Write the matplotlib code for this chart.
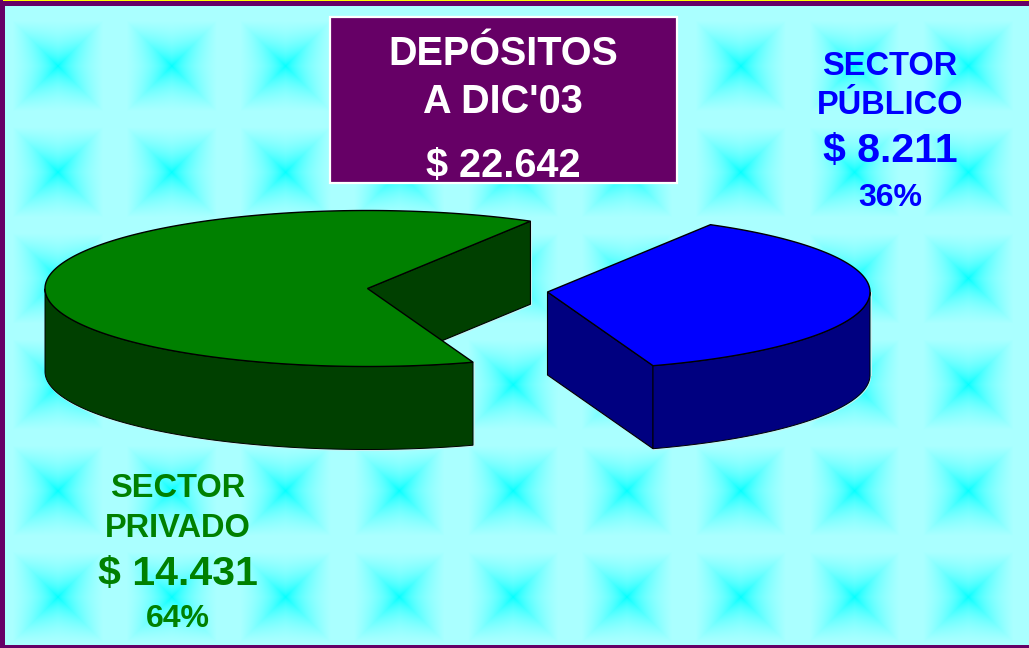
import numpy as np
import matplotlib
matplotlib.use('Agg')
import matplotlib.pyplot as plt
from matplotlib.patches import Polygon, Rectangle

plt.rcParams['font.family'] = ['Liberation Sans', 'DejaVu Sans']

sector_lines = [['SECTOR', 'PRIVADO'], ['SECTOR', 'PÚBLICO']]
amounts = [14431, 8211]
amount_labels = ['$ 14.431', '$ 8.211']
pct_labels = ['64%', '36%']
title_lines = ['DEPÓSITOS', "A DIC'03", '$ 22.642']

PURPLE = '#660066'
W, H = 1029, 648
A, B, DEPTH = 322.5, 78, 83
BLUE_START = -70.9  # where the blue slice starts, degrees
EDGE = '#c8f0f0'


def ell(cx, cy, deg):
    t = np.radians(deg)
    return np.column_stack([cx + A*np.cos(t), cy - B*np.sin(t)])


def draw_slice(ax, cx, cy, a0, a1, top, side, wall_angle):
    #a0 to a1 counter clockwise, wall_angle is the cut face we can see
    p = ell(cx, cy, wall_angle)[0]
    wall = [(cx, cy), p, (p[0], p[1]+DEPTH), (cx, cy+DEPTH)]
    ax.plot([wall[2][0]+.8, wall[3][0]+.8], [wall[2][1]+1, wall[3][1]+1], color=EDGE, lw=.8, zorder=2.5)
    ax.plot([p[0]+.9, p[0]+.9], [p[1], p[1]+DEPTH], color=EDGE, lw=.8, zorder=2.5)
    ax.add_patch(Polygon(wall, fc=side, ec='black', lw=.8, zorder=3))
    #only the front of the rim shows
    angs = np.linspace(a0, a1, 300)
    front = angs[np.sin(np.radians(angs)) <= 0]
    rim = ell(cx, cy, front)
    low = rim + [0, DEPTH]
    ax.plot(low[:, 0]+.6, low[:, 1]+1, color=EDGE, lw=.8, zorder=3.5)
    ax.add_patch(Polygon(np.vstack([rim, low[::-1]]), fc=side, ec='black', lw=.7, zorder=4))
    r = rim[-1] if rim[-1, 0] > cx else rim[0]
    ax.plot([r[0]+.9, r[0]+.9], [r[1], r[1]+DEPTH], color=EDGE, lw=.8, zorder=4.5)
    pts = np.vstack([[(cx, cy)], ell(cx, cy, angs)])
    ax.add_patch(Polygon(pts, fc=top, ec='black', lw=1, zorder=5))


fig = plt.figure(figsize=(W/100, H/100), dpi=100, facecolor=PURPLE)
ax = fig.add_axes([0, 0, 1, 1])

#tiled background, cyan stars on pale cyan
xx, yy = np.meshgrid(np.arange(W)+.5, np.arange(H)+.5)
u = np.clip(np.abs((xx-58+56.9) % 113.8 - 56.9)/45, 0, 1)
v = np.clip(np.abs((yy-66+53.1) % 106.2 - 53.1)/45, 0, 1)
hi = np.maximum(u, v)
lo = np.minimum(u, v)
lev = np.clip(hi + .55*(hi-lo)*(1-hi), 0, 1)**.72
img = np.ones((H, W, 3))
img[..., 0] = (170/255)*lev
ax.imshow(img, extent=(0, W, H, 0), aspect='auto', interpolation='nearest', zorder=0)
ax.set_xlim(0, W)
ax.set_ylim(H, 0)
ax.axis('off')

#frame, open on the right
ax.add_patch(Rectangle((0, 0), 5, H, fc=PURPLE, ec='none', zorder=1))
ax.add_patch(Rectangle((0, 0), W, 6, fc=PURPLE, ec='none', zorder=1))
ax.add_patch(Rectangle((0, H-3), W, 3, fc=PURPLE, ec='none', zorder=1))
ax.add_patch(Rectangle((3, 0), W-3, 1, fc='#ffff00', ec='none', zorder=1.5))

blue_span = 360*amounts[1]/sum(amounts)
blue_end = BLUE_START + blue_span
draw_slice(ax, 367.5, 288.5, blue_end, BLUE_START+360, '#008000', '#004000', blue_end)
draw_slice(ax, 547.5, 292, BLUE_START, blue_end, '#0000ff', '#000080', BLUE_START)

#title box
ax.add_patch(Rectangle((330, 17), 347, 166, fc=PURPLE, ec='white', lw=1.6, zorder=6))
for txt, y in zip(title_lines, [65, 113, 177]):
    ax.text(503, y, txt, color='white', fontsize=28.5, fontweight='bold', ha='center', va='baseline', zorder=7)


def sector_text(x, ys, idx, color):
    parts = sector_lines[idx] + [amount_labels[idx], pct_labels[idx]]
    for txt, y, size in zip(parts, ys, [23.5, 23.5, 29.5, 23]):
        ax.text(x, y, txt, color=color, fontsize=size, fontweight='bold', ha='center', va='baseline', zorder=7)


sector_text(178, [497, 537, 585, 627], 0, '#008000')
sector_text(890, [75, 114, 162, 206], 1, '#0000ff')

fig.savefig('out.png', dpi=100, facecolor=PURPLE)
